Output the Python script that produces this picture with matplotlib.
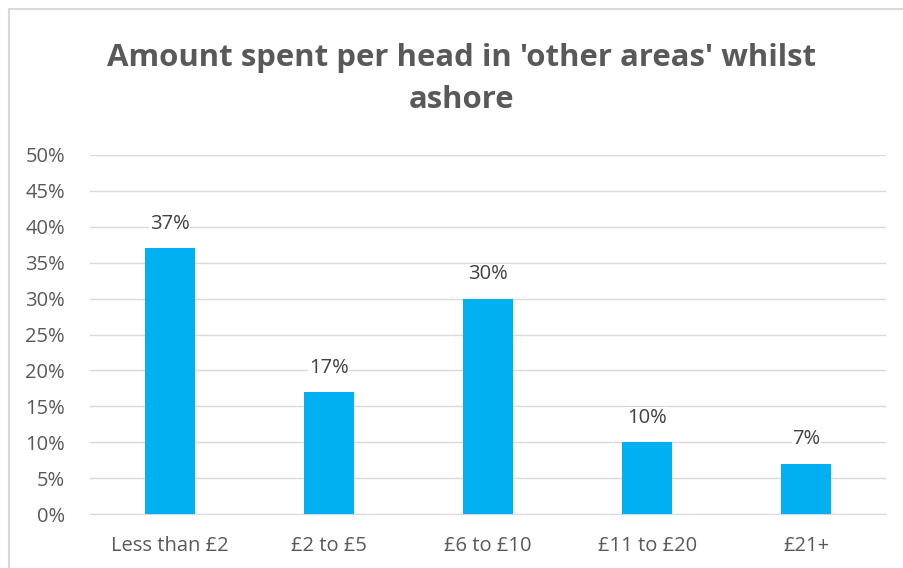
import matplotlib
matplotlib.use("Agg")
import matplotlib.pyplot as plt
from matplotlib.patches import Rectangle
from matplotlib.ticker import MultipleLocator, FuncFormatter

categories = ["Less than £2", "£2 to £5", "£6 to £10", "£11 to £20", "£21+"]
values = [37, 17, 30, 10, 7]
labels = ["37%", "17%", "30%", "10%", "7%"]

plt.rcParams['font.family'] = ['Open Sans', 'DejaVu Sans']
txt = '#595959'

fig = plt.figure(figsize=(9.04, 5.68), dpi=100)
W, H = 904, 568
# chart frame
fig.patches.append(Rectangle((9 / W, -0.1), 1.2, (H - 9) / H + 0.1, transform=fig.transFigure,
                             fill=False, edgecolor='#d9d9d9', linewidth=1.5))

ax = fig.add_axes([90 / W, (H - 514) / H, (886 - 90) / W, (514 - 155) / H])
x = range(len(categories))
ax.bar(x, values, width=0.315, color='#00b0f0', zorder=3)
for i, (v, l) in enumerate(zip(values, labels)):
    ax.text(i, v + 3.4, l, ha='center', va='center', fontsize=14.5, color='#404040', zorder=4,
            bbox=dict(facecolor='white', edgecolor='none', pad=0.5))

ax.set_xlim(-0.5, 4.5)
ax.set_ylim(0, 50)
ax.yaxis.set_major_locator(MultipleLocator(5))
ax.yaxis.set_major_formatter(FuncFormatter(lambda v, p: f"{v:.0f}%"))
ax.grid(axis='y', color='#d9d9d9', linewidth=1, zorder=0)
for s in ['top', 'right', 'left']:
    ax.spines[s].set_visible(False)
ax.spines['bottom'].set_color('#d9d9d9')
ax.tick_params(axis='both', length=0, labelsize=14.5, colors=txt)
ax.tick_params(axis='x', pad=16)
ax.tick_params(axis='y', pad=18)
ax.set_xticks(list(x))
ax.set_xticklabels(categories)

fig.text(462 / W, 1 - 79 / H, "Amount spent per head in 'other areas' whilst\nashore",
         ha='center', va='center', fontsize=22.4, fontweight='bold', color=txt, linespacing=1.55)

fig.savefig('out.png', dpi=100)
